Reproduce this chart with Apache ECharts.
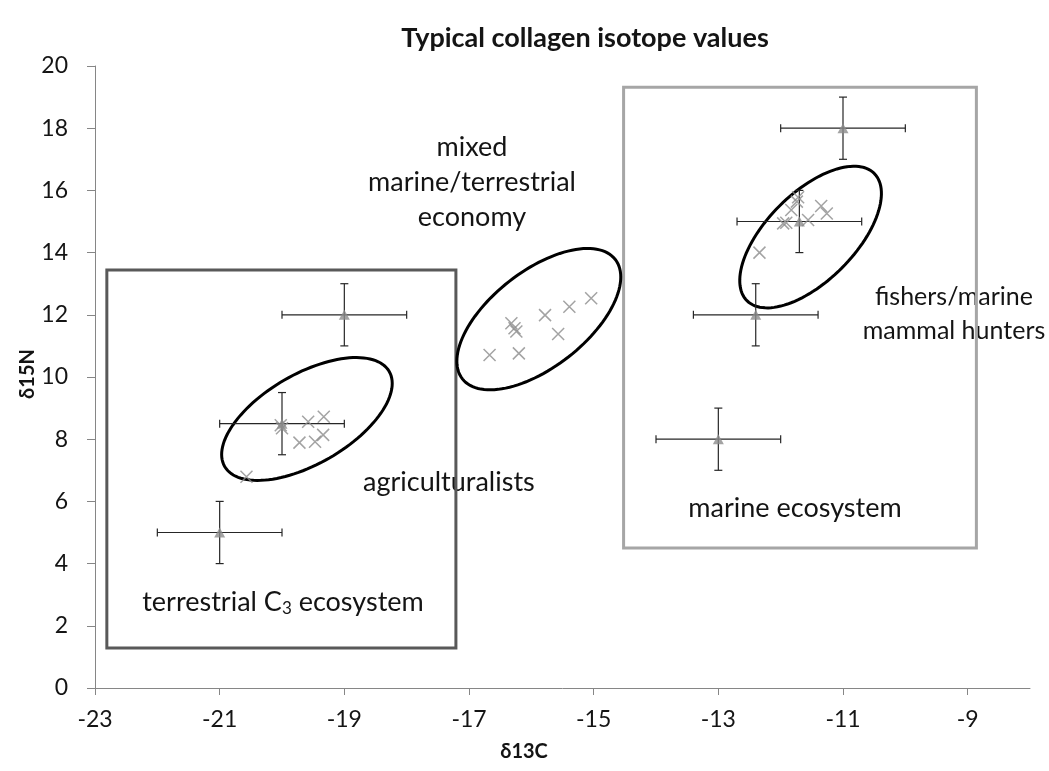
<!DOCTYPE html>
<html>
<head>
<meta charset="utf-8">
<title>Typical collagen isotope values</title>
<script src="https://cdn.jsdelivr.net/npm/echarts@6/dist/echarts.min.js"></script>
<style>
html, body { margin: 0; padding: 0; background: #fff; }
#chart { width: 1049px; height: 771px; }
</style>
</head>
<body>
<div id="chart"></div>
<script>
// reference values (triangles) with +/- 1 sd
const refX = [-21, -20, -19, -13, -12.4, -11.7, -11];
const refY = [5, 8.5, 12, 8, 12, 15, 18];
const refErrX = [1, 1, 1, 1, 1, 1, 1];
const refErrY = [1, 1, 1, 1, 1, 1, 1];

// individual samples (crosses)
const agriX = [-20.02, -20.0, -19.58, -19.33, -19.72, -19.47, -19.34, -20.57];
const agriY = [8.45, 8.35, 8.56, 8.72, 7.89, 7.92, 8.14, 6.79];
const mixedX = [-16.67, -16.2, -16.32, -16.27, -16.24, -15.78, -15.57, -15.39, -15.04];
const mixedY = [10.71, 10.76, 11.73, 11.57, 11.46, 11.99, 11.38, 12.26, 12.53];
const marineX = [-11.74, -11.83, -11.72, -11.35, -11.26, -11.96, -11.91, -11.56, -12.34];
const marineY = [15.64, 15.37, 15.78, 15.5, 15.26, 14.94, 14.96, 15.05, 14.0];

// ellipse centres (data units)
const ellipseCX = [-19.6, -15.88, -11.52];
const ellipseCY = [8.65, 11.86, 14.5];

// ecosystem boxes (data units)
const boxX1 = [-22.81, -14.52];
const boxX2 = [-17.21, -8.86];
const boxY1 = [1.29, 4.5];
const boxY2 = [13.44, 19.32];

// axis ticks
const xTicks = { min: -23, max: -8, step: 2 };
const yTicks = { min: 0, max: 20, step: 2 };

const FONT = 'Lato, "Liberation Sans", sans-serif';

// ellipse outline size in px (semi axes) and tilt in degrees
const ellipseShape = [
  { rx: 95, ry: 45, angle: 30 },
  { rx: 97, ry: 48, angle: 38 },
  { rx: 90, ry: 44, angle: 45 }
];
const boxColors = ['#595959', '#a6a6a6'];

function zip(xs, ys) { return xs.map((x, i) => [x, ys[i]]); }

function renderEllipse(params, api) {
  const c = api.coord([api.value(0), api.value(1)]);
  const e = ellipseShape[params.dataIndex];
  const t = -e.angle * Math.PI / 180;
  const pts = [];
  for (let i = 0; i < 120; i++) {
    const a = i / 120 * Math.PI * 2;
    const ex = e.rx * Math.cos(a), ey = e.ry * Math.sin(a);
    pts.push([c[0] + ex * Math.cos(t) - ey * Math.sin(t), c[1] + ex * Math.sin(t) + ey * Math.cos(t)]);
  }
  return { type: 'polygon', shape: { points: pts }, style: { fill: 'none', stroke: '#000', lineWidth: 3 } };
}

function renderBox(params, api) {
  const p1 = api.coord([api.value(0), api.value(3)]);
  const p2 = api.coord([api.value(2), api.value(1)]);
  return {
    type: 'rect',
    shape: { x: p1[0], y: p1[1], width: p2[0] - p1[0], height: p2[1] - p1[1] },
    style: { fill: 'none', stroke: boxColors[params.dataIndex], lineWidth: 3 }
  };
}

function renderErr(params, api) {
  const x = api.value(0), y = api.value(1), ex = api.value(2), ey = api.value(3);
  const l = api.coord([x - ex, y]), r = api.coord([x + ex, y]);
  const b = api.coord([x, y - ey]), t = api.coord([x, y + ey]);
  const cap = 4;
  const st = { stroke: '#262626', lineWidth: 1.2 };
  const seg = (x1, y1, x2, y2) => ({ type: 'line', shape: { x1, y1, x2, y2 }, style: st });
  return {
    type: 'group',
    children: [
      seg(l[0], l[1], r[0], r[1]),
      seg(l[0], l[1] - cap, l[0], l[1] + cap),
      seg(r[0], r[1] - cap, r[0], r[1] + cap),
      seg(b[0], b[1], t[0], t[1]),
      seg(b[0] - cap, b[1], b[0] + cap, b[1]),
      seg(t[0] - cap, t[1], t[0] + cap, t[1])
    ]
  };
}

const crossSymbol = 'path://M0,0L10,10M10,0L0,10';
const crossStyle = { color: 'none', borderColor: '#8c8c8c', borderWidth: 1.5 };

const annoStyle = { fontFamily: FONT, fontSize: 27, fill: '#141414' };
function anno(x, y, text, extra, rotation) {
  return {
    type: 'text', x: x, y: y, rotation: rotation || 0, silent: true,
    style: Object.assign({ text: text, verticalAlign: 'middle' }, annoStyle, extra || {})
  };
}

const chart = echarts.init(document.getElementById('chart'));
chart.setOption({
  animation: false,
  backgroundColor: '#fff',
  grid: { left: 95, right: 19, top: 66, bottom: 83, containLabel: false, outerBoundsMode: 'none' },
  xAxis: {
    type: 'value',
    min: xTicks.min, max: xTicks.max, interval: xTicks.step,
    axisLine: { onZero: false, lineStyle: { color: '#868686', width: 1 } },
    axisTick: { show: true, length: 7, lineStyle: { color: '#868686' } },
    axisLabel: { fontFamily: FONT, fontSize: 23, color: '#141414', margin: 20, showMaxLabel: false },
    splitLine: { show: false }
  },
  yAxis: {
    type: 'value',
    min: yTicks.min, max: yTicks.max, interval: yTicks.step,
    axisLine: { show: true, onZero: false, lineStyle: { color: '#868686', width: 1 } },
    axisTick: { show: true, length: 8, lineStyle: { color: '#868686' } },
    axisLabel: { fontFamily: FONT, fontSize: 23, color: '#141414', margin: 27 },
    splitLine: { show: false }
  },
  series: [
    {
      type: 'custom', name: 'boxes', z: 1, silent: true,
      renderItem: renderBox,
      data: boxX1.map((x, i) => [x, boxY1[i], boxX2[i], boxY2[i]])
    },
    {
      type: 'custom', name: 'ellipses', z: 2, silent: true,
      renderItem: renderEllipse,
      data: zip(ellipseCX, ellipseCY)
    },
    {
      type: 'custom', name: 'error bars', z: 3,
      renderItem: renderErr,
      data: refX.map((x, i) => [x, refY[i], refErrX[i], refErrY[i]])
    },
    { type: 'scatter', name: 'agriculturalists', z: 4, symbol: crossSymbol, symbolSize: 12, itemStyle: crossStyle, data: zip(agriX, agriY) },
    { type: 'scatter', name: 'mixed', z: 4, symbol: crossSymbol, symbolSize: 12, itemStyle: crossStyle, data: zip(mixedX, mixedY) },
    { type: 'scatter', name: 'fishers', z: 4, symbol: crossSymbol, symbolSize: 12, itemStyle: crossStyle, data: zip(marineX, marineY) },
    {
      type: 'scatter', name: 'reference', z: 5,
      symbol: 'triangle', symbolSize: [11, 10],
      itemStyle: { color: '#8c8c8c' },
      data: zip(refX, refY)
    }
  ],
  graphic: [
    anno(585, 38, 'Typical collagen isotope values', { align: 'center', fontWeight: 'bold' }),
    anno(524, 752, 'δ13C', { align: 'center', fontSize: 20, fontWeight: 'bold' }),
    anno(28, 374, 'δ15N', { align: 'center', fontSize: 20, fontWeight: 'bold' }, Math.PI / 2),
    anno(472, 130, 'mixed\nmarine/terrestrial\neconomy', { align: 'center', verticalAlign: 'top', lineHeight: 35 }),
    anno(363, 482, 'agriculturalists'),
    anno(954, 314, 'fishers/marine\nmammal hunters', { align: 'center', lineHeight: 34, fontSize: 25 }),
    anno(795, 508, 'marine ecosystem', { align: 'center' }),
    anno(283, 602, 'terrestrial C{sub|3} ecosystem', {
      align: 'center',
      rich: { sub: { fontFamily: FONT, fontSize: 17, fill: '#141414', padding: [14, 0, 0, 0] } }
    })
  ]
});
</script>
</body>
</html>
